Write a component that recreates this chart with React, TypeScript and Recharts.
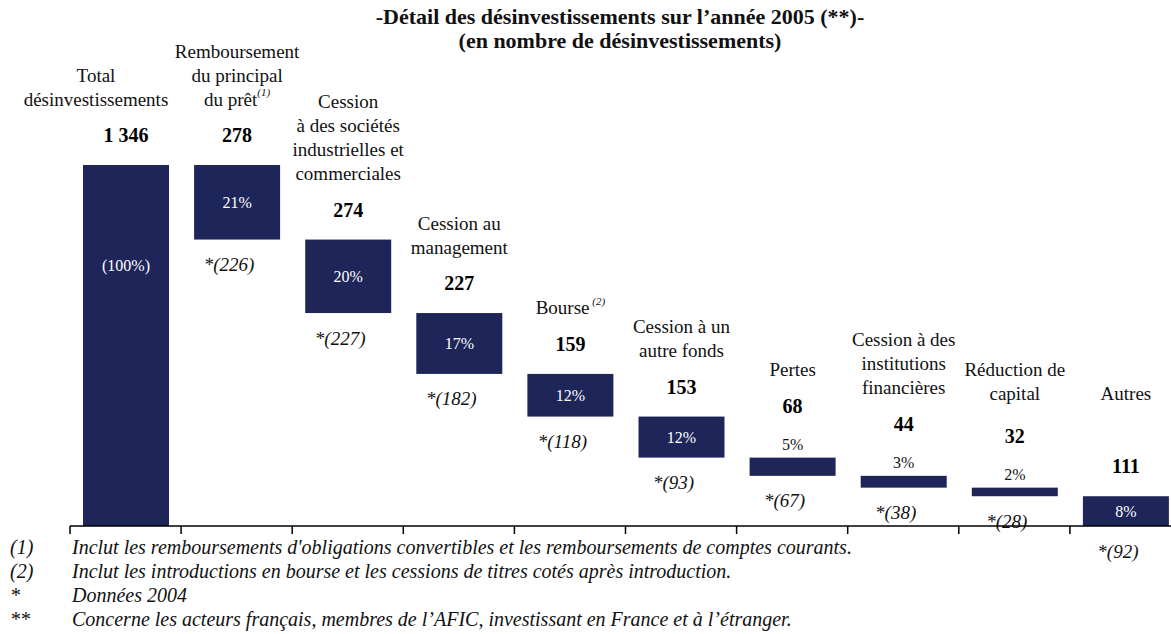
import { BarChart, Bar, XAxis, YAxis } from 'recharts'

const labels = [
  ['Total', 'désinvestissements'],
  ['Remboursement', 'du principal', 'du prêt'],
  ['Cession', 'à des sociétés', 'industrielles et', 'commerciales'],
  ['Cession au', 'management'],
  ['Bourse'],
  ['Cession à un', 'autre fonds'],
  ['Pertes'],
  ['Cession à des', 'institutions', 'financières'],
  ['Réduction de', 'capital'],
  ['Autres'],
]
const notes = ['', '(1)', '', '', ' (2)', '', '', '', '', '']
const values = [1346, 278, 274, 227, 159, 153, 68, 44, 32, 111]
const shares = ['(100%)', '21%', '20%', '17%', '12%', '12%', '5%', '3%', '2%', '8%']
const prior2004 = [null, 226, 227, 182, 118, 93, 67, 38, 28, 92]

const footnotes = [
  ['(1)', "Inclut les remboursements d'obligations convertibles et les remboursements de comptes courants."],
  ['(2)', 'Inclut les introductions en bourse et les cessions de titres cotés après introduction.'],
  ['*', 'Données 2004'],
  ['**', 'Concerne les acteurs français, membres de l’AFIC, investissant en France et à l’étranger.'],
]

// waterfall: each step hangs from what is left of the total
let remaining = values[0]
const data = values.map((v, i) => {
  let base = 0
  if (i > 0) {
    remaining -= v
    base = remaining
  }
  return { key: labels[i].join(' '), base, value: v, index: i }
})

const W = 1181
const H = 634
const M = { top: 165, right: 0, bottom: 78, left: 70 }
const STEP = (W - M.left - M.right) / values.length
const NAVY = '#1e2659'
const SERIF = 'Liberation Serif'

const fmt = (n: number) => String(n).replace(/\B(?=(\d{3})+(?!\d))/g, ' ')

function StepBar(props: any) {
  const { x, y, width, height, index } = props
  const cx = x + width / 2
  const inside = height >= 20
  const valueY = inside ? y - 30 : y - 52
  const lines = labels[index]
  const nameDx = index === 0 ? -30 : 0
  // names never sink below the row of low labels on the right
  const lastY = Math.min(valueY - 36, 393)
  const prior = prior2004[index]
  return (
    <g>
      <rect x={x} y={y} width={width} height={height} fill={NAVY} />
      {lines.map((l, k) => (
        <text
          key={k}
          x={cx + nameDx}
          y={lastY - (lines.length - 1 - k) * 24}
          textAnchor="middle"
          dominantBaseline="central"
          fontSize={19}
          fill="#111"
          style={{ fontFamily: SERIF }}
        >
          {l}
          {k === lines.length - 1 && notes[index] ? (
            <tspan fontSize={11} fontStyle="italic" dy={-7}>
              {notes[index]}
            </tspan>
          ) : null}
        </text>
      ))}
      <text
        x={cx}
        y={valueY}
        textAnchor="middle"
        dominantBaseline="central"
        fontSize={20}
        fontWeight="bold"
        fill="#000"
        style={{ fontFamily: SERIF }}
      >
        {fmt(values[index])}
      </text>
      <text
        x={cx}
        y={inside ? y + Math.min(height, 200) / 2 : y - 13}
        textAnchor="middle"
        dominantBaseline="central"
        fontSize={16}
        fill={inside ? '#fff' : '#111'}
        style={{ fontFamily: SERIF }}
      >
        {shares[index]}
      </text>
      {prior != null && (
        <text
          x={cx - 8}
          y={y + height + 25}
          textAnchor="middle"
          dominantBaseline="central"
          fontSize={19}
          fontStyle="italic"
          fill="#111"
          style={{ fontFamily: SERIF }}
        >
          *({prior})
        </text>
      )}
    </g>
  )
}

function BoundaryTick(props: any) {
  const { x, y } = props
  const bx = x - STEP / 2
  return <line x1={bx} x2={bx} y1={y - 8} y2={y} stroke="#000" strokeWidth={1.5} />
}

export default function App() {
  return (
    <div style={{ position: 'absolute', left: 0, top: 0, width: 1171, height: H, overflow: 'hidden', background: '#fff', fontFamily: SERIF }}>
      <div style={{ position: 'absolute', left: 0, width: 1240, top: 5, textAlign: 'center', fontWeight: 'bold', fontSize: 22, lineHeight: '24px', color: '#111' }}>
        <div>-Détail des désinvestissements sur l’année 2005 (**)-</div>
        <div>(en nombre de désinvestissements)</div>
      </div>
      <BarChart width={W} height={H} data={data} margin={M} barSize={86}>
        <XAxis
          dataKey="key"
          axisLine={{ stroke: '#000', strokeWidth: 1.5 }}
          tickLine={false}
          tick={<BoundaryTick />}
          interval={0}
        />
        <YAxis hide domain={[0, values[0]]} />
        <Bar dataKey="base" stackId="w" fill="transparent" isAnimationActive={false} />
        <Bar dataKey="value" stackId="w" shape={<StepBar />} isAnimationActive={false} />
      </BarChart>
      {footnotes.map(([mark, text], i) => (
        <div
          key={i}
          style={{
            position: 'absolute',
            top: 535 + i * 24,
            left: 10,
            fontSize: 20,
            lineHeight: '24px',
            fontStyle: 'italic',
            color: '#111',
            whiteSpace: 'nowrap',
          }}
        >
          <span style={{ display: 'inline-block', width: 62 }}>{mark}</span>
          {text}
        </div>
      ))}
    </div>
  )
}
